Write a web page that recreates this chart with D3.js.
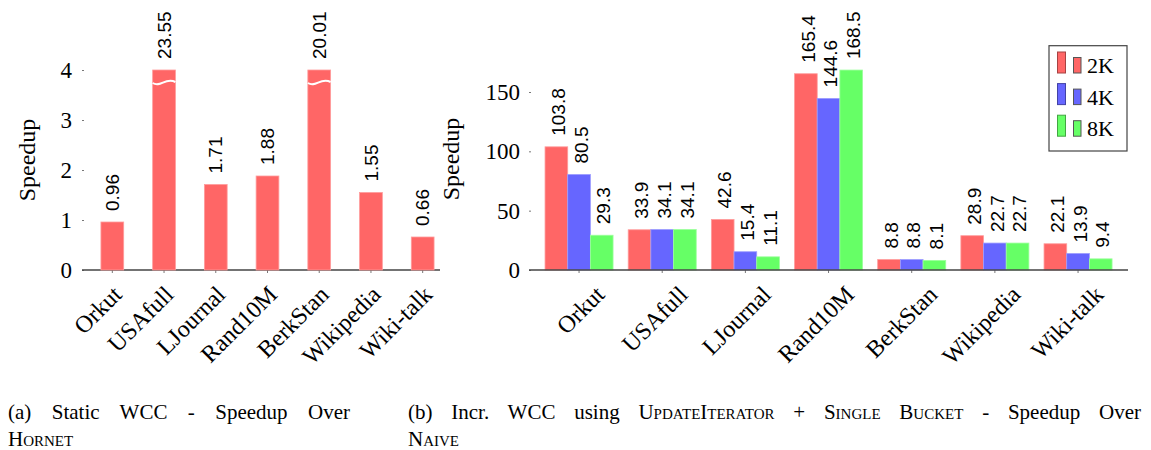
<!DOCTYPE html>
<html><head><meta charset="utf-8">
<script src="https://cdn.jsdelivr.net/npm/d3@7"></script>
<style>body{margin:0;background:#fff} svg{display:block}</style>
</head><body>
<svg id="c" width="1151" height="450"></svg>
<script>
// ---------- data ----------
const categories = ["Orkut","USAfull","LJournal","Rand10M","BerkStan","Wikipedia","Wiki-talk"];
const staticSpeedup = [0.96, 23.55, 1.71, 1.88, 20.01, 1.55, 0.66];
const leftYTicks = [0, 1, 2, 3, 4];
const leftYMax = 4;
const seriesNames = ["2K", "4K", "8K"];
const incr2K = [103.8, 33.9, 42.6, 165.4, 8.8, 28.9, 22.1];
const incr4K = [80.5, 34.1, 15.4, 144.6, 8.8, 22.7, 13.9];
const incr8K = [29.3, 34.1, 11.1, 168.5, 8.1, 22.7, 9.4];
const rightYTicks = [0, 50, 100, 150];
const seriesColors = ["#ff6666", "#6666ff", "#66ff66"];

// ---------- setup ----------
const svg = d3.select("#c");
const serif = "Liberation Serif, DejaVu Serif, serif";
const sans = "Liberation Sans, DejaVu Sans, sans-serif";
const lighten = c => d3.interpolateRgb(c, "#fff")(0.35);

function styleAxis(g, size) {
  g.attr("font-family", null).attr("font-size", null);
  g.select(".domain").remove();
  g.selectAll(".tick line").attr("stroke", "#777");
  g.selectAll(".tick text").attr("font-family", serif).attr("font-size", size).attr("fill", "#000");
}

// ---------- left chart ----------
const xL = d3.scaleBand().domain(categories).range([88, 447]).paddingInner(0.56).paddingOuter(0.25);
const yL = d3.scaleLinear().domain([0, leftYMax]).range([270, 70]);
const gL = svg.append("g");

gL.append("g").attr("transform", "translate(82,0)")
  .call(d3.axisLeft(yL).tickValues(leftYTicks).tickSize(-2).tickPadding(10).tickFormat(d3.format("d")))
  .call(g => styleAxis(g, 23));

gL.append("g").attr("transform", `translate(0,${yL(0)})`)
  .call(d3.axisBottom(xL).tickSize(3))
  .call(g => styleAxis(g, 24))
  .call(g => g.selectAll(".tick text").attr("x", null).attr("y", null).attr("dy", null)
      .attr("text-anchor", "end").attr("transform", "translate(11,26) rotate(-45)"));

gL.append("line").attr("x1", 82).attr("x2", 440).attr("y1", yL(0)).attr("y2", yL(0))
  .attr("stroke", "#444").attr("stroke-width", 1.5);

const leftData = categories.map((c, i) => ({ c, v: staticSpeedup[i] }));
gL.selectAll("rect.bar").data(leftData).join("rect").attr("class", "bar")
  .attr("x", d => xL(d.c)).attr("width", xL.bandwidth())
  .attr("y", d => yL(Math.min(d.v, leftYMax)))
  .attr("height", d => yL(0) - yL(Math.min(d.v, leftYMax)))
  .attr("fill", seriesColors[0]).attr("stroke", lighten(seriesColors[0])).attr("stroke-width", 0.8);

// break marks on clipped bars
gL.selectAll("path.brk").data(leftData.filter(d => d.v > leftYMax)).join("path").attr("class", "brk")
  .attr("d", d => {
    const x0 = xL(d.c), w = xL.bandwidth(), y = yL(leftYMax) + 13;
    return `M${x0},${y} C${x0 + w * 0.35},${y + 5} ${x0 + w * 0.55},${y - 6} ${x0 + w},${y - 1}`;
  })
  .attr("fill", "none").attr("stroke", "#fff").attr("stroke-width", 2);

gL.selectAll("text.val").data(leftData).join("text").attr("class", "val")
  .attr("transform", d => `translate(${xL(d.c) + xL.bandwidth() / 2},${yL(Math.min(d.v, leftYMax)) - 11}) rotate(-90)`)
  .attr("dy", "0.35em").attr("text-anchor", "start")
  .attr("font-family", sans).attr("font-size", 19)
  .text(d => d3.format(".2f")(d.v));

gL.append("text").attr("transform", "translate(27,160) rotate(-90)")
  .attr("text-anchor", "middle").attr("dy", "0.35em")
  .attr("font-family", serif).attr("font-size", 24).text("Speedup");

// ---------- right chart ----------
const x0 = d3.scaleBand().domain(categories).range([528.4, 1128.7]).paddingInner(0.182).paddingOuter(0.2);
const x1 = d3.scaleBand().domain(seriesNames).range([0, x0.bandwidth()]);
const yR = d3.scaleLinear().domain([0, 150]).range([270, 92]);
const color = d3.scaleOrdinal().domain(seriesNames).range(seriesColors);
const seriesVals = { "2K": incr2K, "4K": incr4K, "8K": incr8K };
const gR = svg.append("g");

gR.append("g").attr("transform", "translate(529,0)")
  .call(d3.axisLeft(yR).tickValues(rightYTicks).tickSize(-2).tickPadding(9).tickFormat(d3.format("d")))
  .call(g => styleAxis(g, 23));

gR.append("g").attr("transform", `translate(0,${yR(0)})`)
  .call(d3.axisBottom(x0).tickSize(3))
  .call(g => styleAxis(g, 24))
  .call(g => g.selectAll(".tick text").attr("x", null).attr("y", null).attr("dy", null)
      .attr("text-anchor", "end").attr("transform", "translate(27,26) rotate(-45)"));

const rightData = [];
categories.forEach((c, i) => seriesNames.forEach(s => rightData.push({ c, s, v: seriesVals[s][i] })));

gR.selectAll("rect.bar").data(rightData).join("rect").attr("class", "bar")
  .attr("x", d => x0(d.c) + x1(d.s)).attr("width", x1.bandwidth())
  .attr("y", d => yR(d.v)).attr("height", d => yR(0) - yR(d.v))
  .attr("fill", d => color(d.s)).attr("stroke", d => lighten(color(d.s))).attr("stroke-width", 0.8);

gR.append("line").attr("x1", 529).attr("x2", 1128).attr("y1", yR(0)).attr("y2", yR(0))
  .attr("stroke", "#444").attr("stroke-width", 1.5);

gR.selectAll("text.val").data(rightData).join("text").attr("class", "val")
  .attr("transform", d => `translate(${x0(d.c) + x1(d.s) + x1.bandwidth() / 2 + 2},${yR(d.v) - 11}) rotate(-90)`)
  .attr("dy", "0.35em").attr("text-anchor", "start")
  .attr("font-family", sans).attr("font-size", 19)
  .text(d => d3.format(".1f")(d.v));

gR.append("text").attr("transform", "translate(451,159) rotate(-90)")
  .attr("text-anchor", "middle").attr("dy", "0.35em")
  .attr("font-family", serif).attr("font-size", 24).text("Speedup");

// legend
const lg = svg.append("g");
lg.append("rect").attr("x", 1049).attr("y", 45.7).attr("width", 78).attr("height", 105.3)
  .attr("fill", "#fff").attr("stroke", "#444").attr("stroke-width", 1.2);
const rows = lg.selectAll("g.row").data(seriesNames).join("g").attr("class", "row")
  .attr("transform", (d, i) => `translate(0,${73 + i * 31.6})`);
rows.append("rect").attr("x", 1057.5).attr("y", -21).attr("width", 8).attr("height", 21)
  .attr("fill", d => color(d)).attr("stroke", d => d3.color(color(d)).darker(1.2)).attr("stroke-width", 1);
rows.append("rect").attr("x", 1073.5).attr("y", -15.5).attr("width", 7.5).attr("height", 15.5)
  .attr("fill", d => color(d)).attr("stroke", "#555").attr("stroke-width", 1);
rows.append("text").attr("x", 1087).attr("y", 0)
  .attr("font-family", serif).attr("font-size", 22).text(d => d);

// ---------- captions ----------
function justify(t, w) {
  const n = t.node();
  const L = n.getComputedTextLength();
  const spaces = (n.textContent.match(/ /g) || []).length;
  if (spaces) t.attr("word-spacing", ((w - L) / spaces));
}
function cap(x, y, parts) {
  const t = svg.append("text").attr("x", x).attr("y", y)
    .attr("font-family", serif).attr("font-size", 21);
  parts.forEach(p => {
    const ts = t.append("tspan").text(p[0]);
    if (p[1]) ts.attr("font-variant", "small-caps");
  });
  return t;
}
justify(cap(8, 419, [["(a) Static WCC - Speedup Over"]]), 342);
cap(8, 446, [["Hornet", true]]);
justify(cap(408, 419, [["(b) Incr. WCC using "], ["UpdateIterator", true], [" + "], ["Single Bucket", true], [" - Speedup Over"]]), 733);
cap(408, 446, [["Naive", true]]);
</script>
</body></html>
